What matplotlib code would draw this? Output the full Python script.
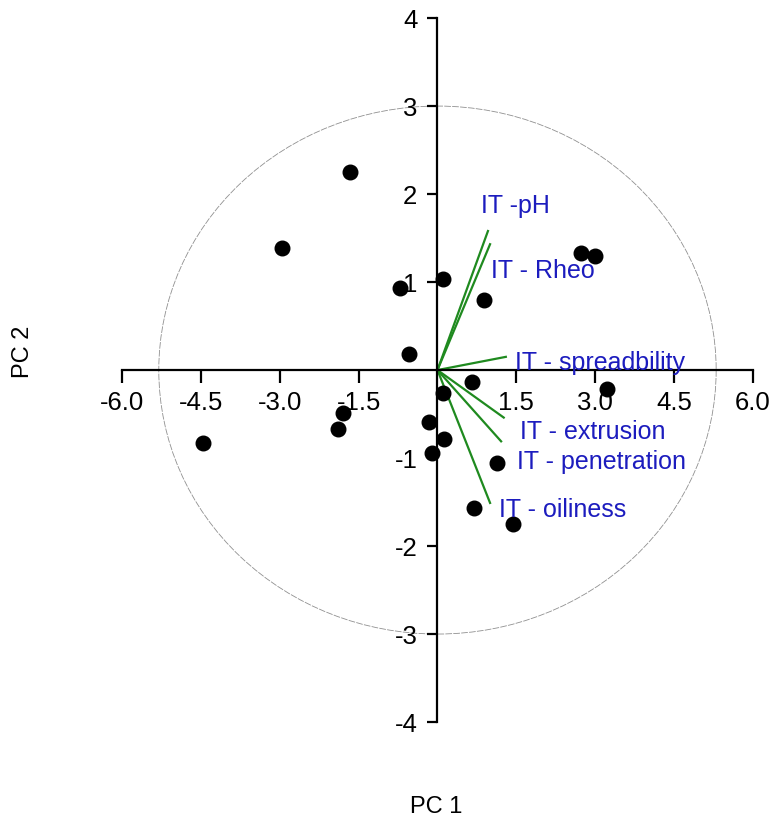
import matplotlib
matplotlib.use("Agg")
import matplotlib.pyplot as plt
from matplotlib.patches import Ellipse

# Scores (PC1, PC2)
pc1_scores = [-1.66, -2.96, 0.10, -0.71, 0.89, 2.73, 2.99, -0.55, 0.65, 0.11,
              3.22, -1.80, -1.90, -4.46, -0.17, 0.12, -0.11, 1.13, 0.70, 1.44]
pc2_scores = [2.25, 1.39, 1.04, 0.93, 0.80, 1.33, 1.30, 0.18, -0.14, -0.26,
              -0.21, -0.49, -0.67, -0.83, -0.59, -0.78, -0.94, -1.06, -1.57, -1.75]

# Loadings (scaled)
var_names = ['IT -pH', 'IT - Rheo', 'IT - spreadbility', 'IT - extrusion',
             'IT - penetration', 'IT - oiliness']
load_x = [0.96, 1.00, 1.30, 1.26, 1.21, 1.00]
load_y = [1.58, 1.43, 0.15, -0.54, -0.81, -1.51]
label_x = [0.83, 1.01, 1.47, 1.57, 1.51, 1.17]
label_y = [1.86, 1.13, 0.08, -0.70, -1.04, -1.59]

x_ticks = [-6.0, -4.5, -3.0, -1.5, 1.5, 3.0, 4.5, 6.0]
y_ticks = [-4, -3, -2, -1, 1, 2, 3, 4]

plt.rcParams['font.family'] = ['Liberation Sans', 'DejaVu Sans']

fig = plt.figure(figsize=(7.73, 8.25), dpi=100)
ax = fig.add_axes([0.1578, 0.1248, 0.8163, 0.8533])

ax.set_xlim(-6, 6)
ax.set_ylim(-4, 4)

# circle
ax.add_patch(Ellipse((0, 0), 2 * 5.3, 6.0, fill=False, edgecolor='#909090',
                     linewidth=0.6, linestyle=(0, (8, 1.5)), zorder=1))

# loadings
for lx, ly in zip(load_x, load_y):
    ax.plot([0, lx], [0, ly], color='#1f8a1f', linewidth=1.6, zorder=2)
for name, tx, ty in zip(var_names, label_x, label_y):
    ax.text(tx, ty, name, color='#1c1cbe', fontsize=18, ha='left', va='center', zorder=4)

# scores
ax.scatter(pc1_scores, pc2_scores, s=110, color='black', zorder=3)

# axes through the origin
for side in ['top', 'right']:
    ax.spines[side].set_visible(False)
ax.spines['left'].set_position('zero')
ax.spines['bottom'].set_position('zero')
for side in ['left', 'bottom']:
    ax.spines[side].set_linewidth(1.6)

ax.set_xticks(x_ticks)
ax.set_xticklabels(['%.1f' % v for v in x_ticks])
ax.set_yticks(y_ticks)
ax.set_yticklabels([str(v) for v in y_ticks])
ax.tick_params(direction='out', length=9, width=1.6, pad=6, labelsize=18.5)
ax.tick_params(axis='y', length=7.5, pad=7)

fig.text(0.564, 1 - 807 / 825, 'PC 1', fontsize=17, ha='center', va='center')
fig.text(0.030, 1 - 352 / 825, 'PC 2', fontsize=17, ha='center', va='center', rotation=90)

fig.savefig('out.png', dpi=100)
